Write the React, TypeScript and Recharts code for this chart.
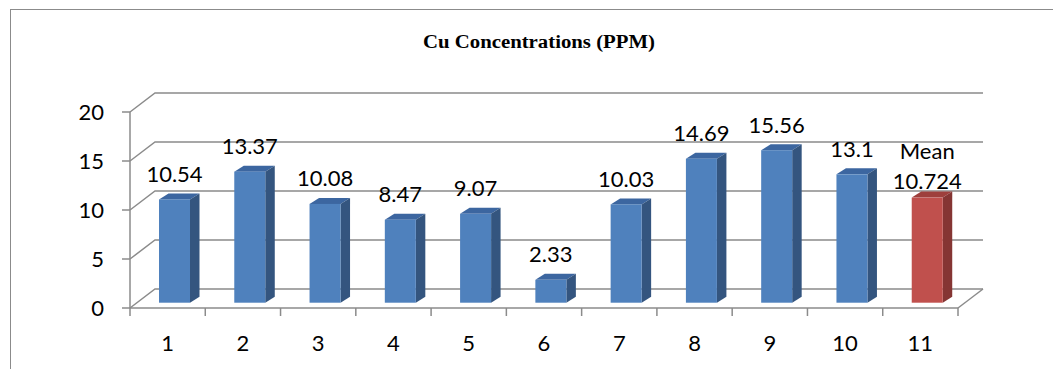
import React from "react";
import { BarChart, Bar, XAxis, YAxis, CartesianGrid, LabelList } from "recharts";

// sample numbers along x, the last one is the mean of the ten samples
const categories = ["1", "2", "3", "4", "5", "6", "7", "8", "9", "10", "11"];
const cuValues = [10.54, 13.37, 10.08, 8.47, 9.07, 2.33, 10.03, 14.69, 15.56, 13.1, 10.724];
const yTicks = [0, 5, 10, 15, 20];
const meanCaption = "Mean";

const data = categories.map((name, i) => ({ name, value: cuValues[i] }));
const meanIndex = data.length - 1;

// layout
const W = 1053;
const H = 369;
const M = { top: 112, right: 95, bottom: 31, left: 90 };
const Y_AXIS_W = 40;
const X_AXIS_H = 30;
const PLOT_LEFT = M.left + Y_AXIS_W;
const PLOT_RIGHT = W - M.right;
const AXIS_Y = H - M.bottom - X_AXIS_H;
const BAND = (PLOT_RIGHT - PLOT_LEFT) / categories.length;

// 3d projection: wall depth, and the plane the bars stand on
const DEPTH_X = 25;
const DEPTH_Y = -19;
const BAR_DX = 7;
const BAR_DY = -5.3;
const BAR_SIDE_X = 9.5;
const BAR_SIDE_Y = -6;

const LINE = "#8b8b8b";
const FONT = "Lato, 'Open Sans', sans-serif";

const BLUE = { front: "#4f81bd", side: "#34557f", top: "#3c66a0" };
const RED = { front: "#c0504d", side: "#853533", top: "#9e3f3c" };

function GridLine(props: any) {
  const { x1, x2, y1, index } = props;
  const bx1 = x1 + DEPTH_X;
  const bx2 = x2 + DEPTH_X;
  const by = y1 + DEPTH_Y;
  const isFloor = Math.abs(y1 - AXIS_Y) < 0.5;
  return (
    <g key={`grid-${index}`}>
      <path d={`M${x1},${y1} L${bx1},${by} L${bx2},${by}`} fill="none" stroke={LINE} strokeWidth={1.5} />
      {isFloor && <path d={`M${x2},${y1} L${bx2},${by}`} fill="none" stroke={LINE} strokeWidth={1.5} />}
    </g>
  );
}

function Bar3D(props: any) {
  const { x, y, width, height, index } = props;
  if (height <= 0) return null;
  const c = index === meanIndex ? RED : BLUE;
  const fx = x + BAR_DX;
  const fy = y + BAR_DY;
  const r = fx + width;
  return (
    <g>
      <polygon
        points={`${fx},${fy} ${r},${fy} ${r + BAR_SIDE_X},${fy + BAR_SIDE_Y} ${fx + BAR_SIDE_X},${fy + BAR_SIDE_Y}`}
        fill={c.top}
      />
      <polygon
        points={`${r},${fy} ${r + BAR_SIDE_X},${fy + BAR_SIDE_Y} ${r + BAR_SIDE_X},${fy + height + BAR_SIDE_Y} ${r},${fy + height}`}
        fill={c.side}
      />
      <rect x={fx} y={fy} width={width} height={height} fill={c.front} />
    </g>
  );
}

function ValueLabel(props: any) {
  const { x, y, width, value, index } = props;
  const cx = x + BAR_DX + width / 2;
  const topBack = y + BAR_DY + BAR_SIDE_Y;
  const style = { fontFamily: FONT, fontSize: 22, fill: "#000" };
  if (index === meanIndex) {
    const base = topBack - 3;
    return (
      <g>
        <text x={cx} y={base - 30} textAnchor="middle" style={style}>
          {meanCaption}
        </text>
        <text x={cx} y={base} textAnchor="middle" style={style}>
          {value}
        </text>
      </g>
    );
  }
  return (
    <text x={cx} y={topBack - 11.5} textAnchor="middle" style={style}>
      {value}
    </text>
  );
}

function CategoryTick(props: any) {
  const { payload, index } = props;
  const cx = payload.coordinate;
  const left = cx - BAND / 2;
  const right = cx + BAND / 2;
  return (
    <g>
      <line x1={left} y1={AXIS_Y} x2={left} y2={AXIS_Y + 8} stroke={LINE} strokeWidth={1.5} />
      {index === categories.length - 1 && (
        <line x1={right} y1={AXIS_Y} x2={right} y2={AXIS_Y + 8} stroke={LINE} strokeWidth={1.5} />
      )}
      <text x={cx} y={AXIS_Y + 43} textAnchor="middle" style={{ fontFamily: FONT, fontSize: 22, fill: "#000" }}>
        {payload.value}
      </text>
    </g>
  );
}

export default function App() {
  return (
    <div style={{ position: "absolute", left: 0, top: 0, width: W, height: H, background: "#fff" }}>
      <BarChart width={W} height={H} data={data} margin={M} barSize={31}>
        <CartesianGrid vertical={false} horizontal={(p: any) => <GridLine {...p} />} />
        <XAxis
          dataKey="name"
          height={X_AXIS_H}
          axisLine={{ stroke: LINE, strokeWidth: 1.5 }}
          tickLine={false}
          tick={<CategoryTick />}
          interval={0}
        />
        <YAxis
          width={Y_AXIS_W}
          domain={[0, 20]}
          ticks={yTicks}
          axisLine={{ stroke: LINE, strokeWidth: 1.5 }}
          tickLine={{ stroke: LINE, strokeWidth: 1.5 }}
          tickSize={8}
          tickMargin={18}
          tick={{ fontFamily: FONT, fontSize: 22, fill: "#000" }}
        />
        <Bar dataKey="value" shape={<Bar3D />} isAnimationActive={false}>
          <LabelList dataKey="value" content={<ValueLabel />} />
        </Bar>
      </BarChart>
      <div
        style={{
          position: "absolute",
          left: 10,
          top: 9,
          width: W - 10,
          height: H - 9,
          borderLeft: `1.5px solid ${LINE}`,
          borderTop: `1.5px solid ${LINE}`,
          pointerEvents: "none",
        }}
      />
      <svg width={W} height={H} style={{ position: "absolute", left: 0, top: 0, pointerEvents: "none" }}>
        <text
          x={539}
          y={48}
          textAnchor="middle"
          textLength={232}
          lengthAdjust="spacingAndGlyphs"
          style={{ fontFamily: "'Liberation Serif', 'Times New Roman', serif", fontWeight: "bold", fontSize: 18, fill: "#000" }}
        >
          Cu Concentrations (PPM)
        </text>
      </svg>
    </div>
  );
}
